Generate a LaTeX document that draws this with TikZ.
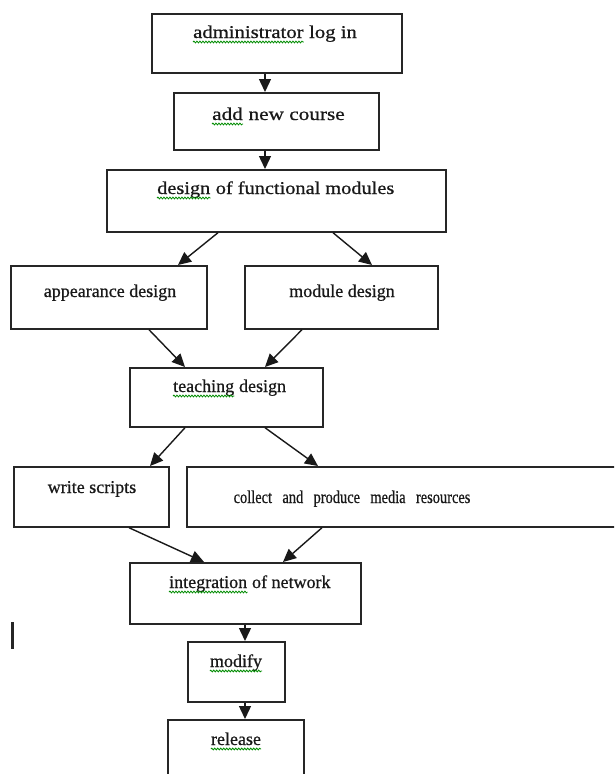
\documentclass[tikz,border=0pt]{standalone}
\usepackage{fontspec}
\setmainfont{Liberation Serif}
\newfontfamily\boxfont[FakeBold=0.7]{Liberation Serif}
\usepackage{graphicx}
\usetikzlibrary{arrows.meta,calc,decorations.pathmorphing}
\tikzset{
  box/.style={draw=black!85, line width=1.7pt, inner sep=0pt, anchor=north west},
  txt/.style={anchor=base, inner sep=0pt, font=\boxfont\fontsize{18}{20}\selectfont, text=black!90},
  wtxt/.style={txt, anchor=base west},
  squig/.style={draw=green!55!black, line width=0.8pt, decorate, decoration={snake, amplitude=0.9pt, segment length=3pt}},
  arr/.style={-{Triangle[length=13pt,width=12pt]}, line width=1.4pt, draw=black!90}
}
\begin{document}
\begin{tikzpicture}[x=1pt,y=-1pt]
\clip (0,0) rectangle (614,774);
\fill[white] (0,0) rectangle (614,774);
% boxes
\node[box, minimum width=250pt, minimum height=59pt] (b1) at (151,13) {};
\node[box, minimum width=205pt, minimum height=57pt] (b2) at (173,92) {};
\node[box, minimum width=339pt, minimum height=62pt] (b3) at (106,169) {};
\node[box, minimum width=196pt, minimum height=63pt] (b4) at (10,265) {};
\node[box, minimum width=193pt, minimum height=63pt] (b5) at (244,265) {};
\node[box, minimum width=193pt, minimum height=59pt] (b6) at (129,367) {};
\node[box, minimum width=155pt, minimum height=60pt] (b7) at (13,466) {};
\node[box, minimum width=444pt, minimum height=60pt] (b8) at (186,466) {};
\node[box, minimum width=231pt, minimum height=61pt] (b9) at (129,562) {};
\node[box, minimum width=97pt, minimum height=60pt] (b10) at (187,641) {};
\node[box, minimum width=136pt, minimum height=71pt] (b11) at (167,719) {};
% texts
\node[wtxt] (t1a) at (193,38) {\scalebox{1.15}[1]{administrator}};
\node[wtxt] (t1b) at (t1a.base east) {\scalebox{1.15}[1]{\ log in}};
\node[wtxt] (t2a) at (212,120) {\scalebox{1.18}[1]{add}};
\node[wtxt] (t2b) at (t2a.base east) {\scalebox{1.18}[1]{\ new course}};
\node[wtxt] (t3a) at (157,194) {\scalebox{1.13}[1]{design}};
\node[wtxt] (t3b) at (t3a.base east) {\scalebox{1.13}[1]{\ of functional modules}};
\node[txt] (t4) at (110,297) {appearance design};
\node[txt] (t5) at (342,297) {module design};
\node[wtxt] (t6a) at (173,392) {teaching};
\node[wtxt] (t6b) at (t6a.base east) {\ design};
\node[txt] (t7) at (92,493) {write scripts};
\node[txt] (t8) at (352,503) {\scalebox{0.8}[1]{collect\hspace{13pt}and\hspace{13pt}produce\hspace{13pt}media\hspace{13pt}resources}};
\node[wtxt] (t9a) at (169,588) {integration};
\node[wtxt] (t9b) at (t9a.base east) {\ of network};
\node[txt] (t10) at (236,667) {modify};
\node[txt] (t11) at (236,745) {release};
% spell-check squiggles
\foreach \w in {t1a,t2a,t3a,t6a,t9a,t10,t11}
  \draw[squig] ($(\w.base west)+(0,4)$) -- ($(\w.base east)+(0,4)$);
% connectors
\draw[arr] ($(b1.south west)+(114,0)$) -- ($(b2.north west)+(92,0)$);
\draw[arr] ($(b2.south west)+(92,0)$) -- ($(b3.north west)+(159,0)$);
\draw[arr] ($(b3.south west)+(112,0)$) -- ($(b4.north west)+(168,0)$);
\draw[arr] ($(b3.south west)+(227,0)$) -- ($(b5.north west)+(128,0)$);
\draw[arr] ($(b4.south west)+(139,0)$) -- ($(b6.north west)+(56,0)$);
\draw[arr] ($(b5.south west)+(58,0)$) -- ($(b6.north west)+(136,0)$);
\draw[arr] ($(b6.south west)+(56,0)$) -- ($(b7.north west)+(137,0)$);
\draw[arr] ($(b6.south west)+(136,0)$) -- ($(b8.north west)+(132,0)$);
\draw[arr] ($(b7.south west)+(116,0)$) -- ($(b9.north west)+(75,0)$);
\draw[arr] ($(b8.south west)+(136,0)$) -- ($(b9.north west)+(154,0)$);
\draw[arr] ($(b9.south west)+(116,0)$) -- ($(b10.north west)+(58,0)$);
\draw[arr] ($(b10.south west)+(58,0)$) -- ($(b11.north west)+(78,0)$);
% stray cursor bar
\draw[line width=3pt, black!85] (12,622) -- (12,649);
\end{tikzpicture}
\end{document}
